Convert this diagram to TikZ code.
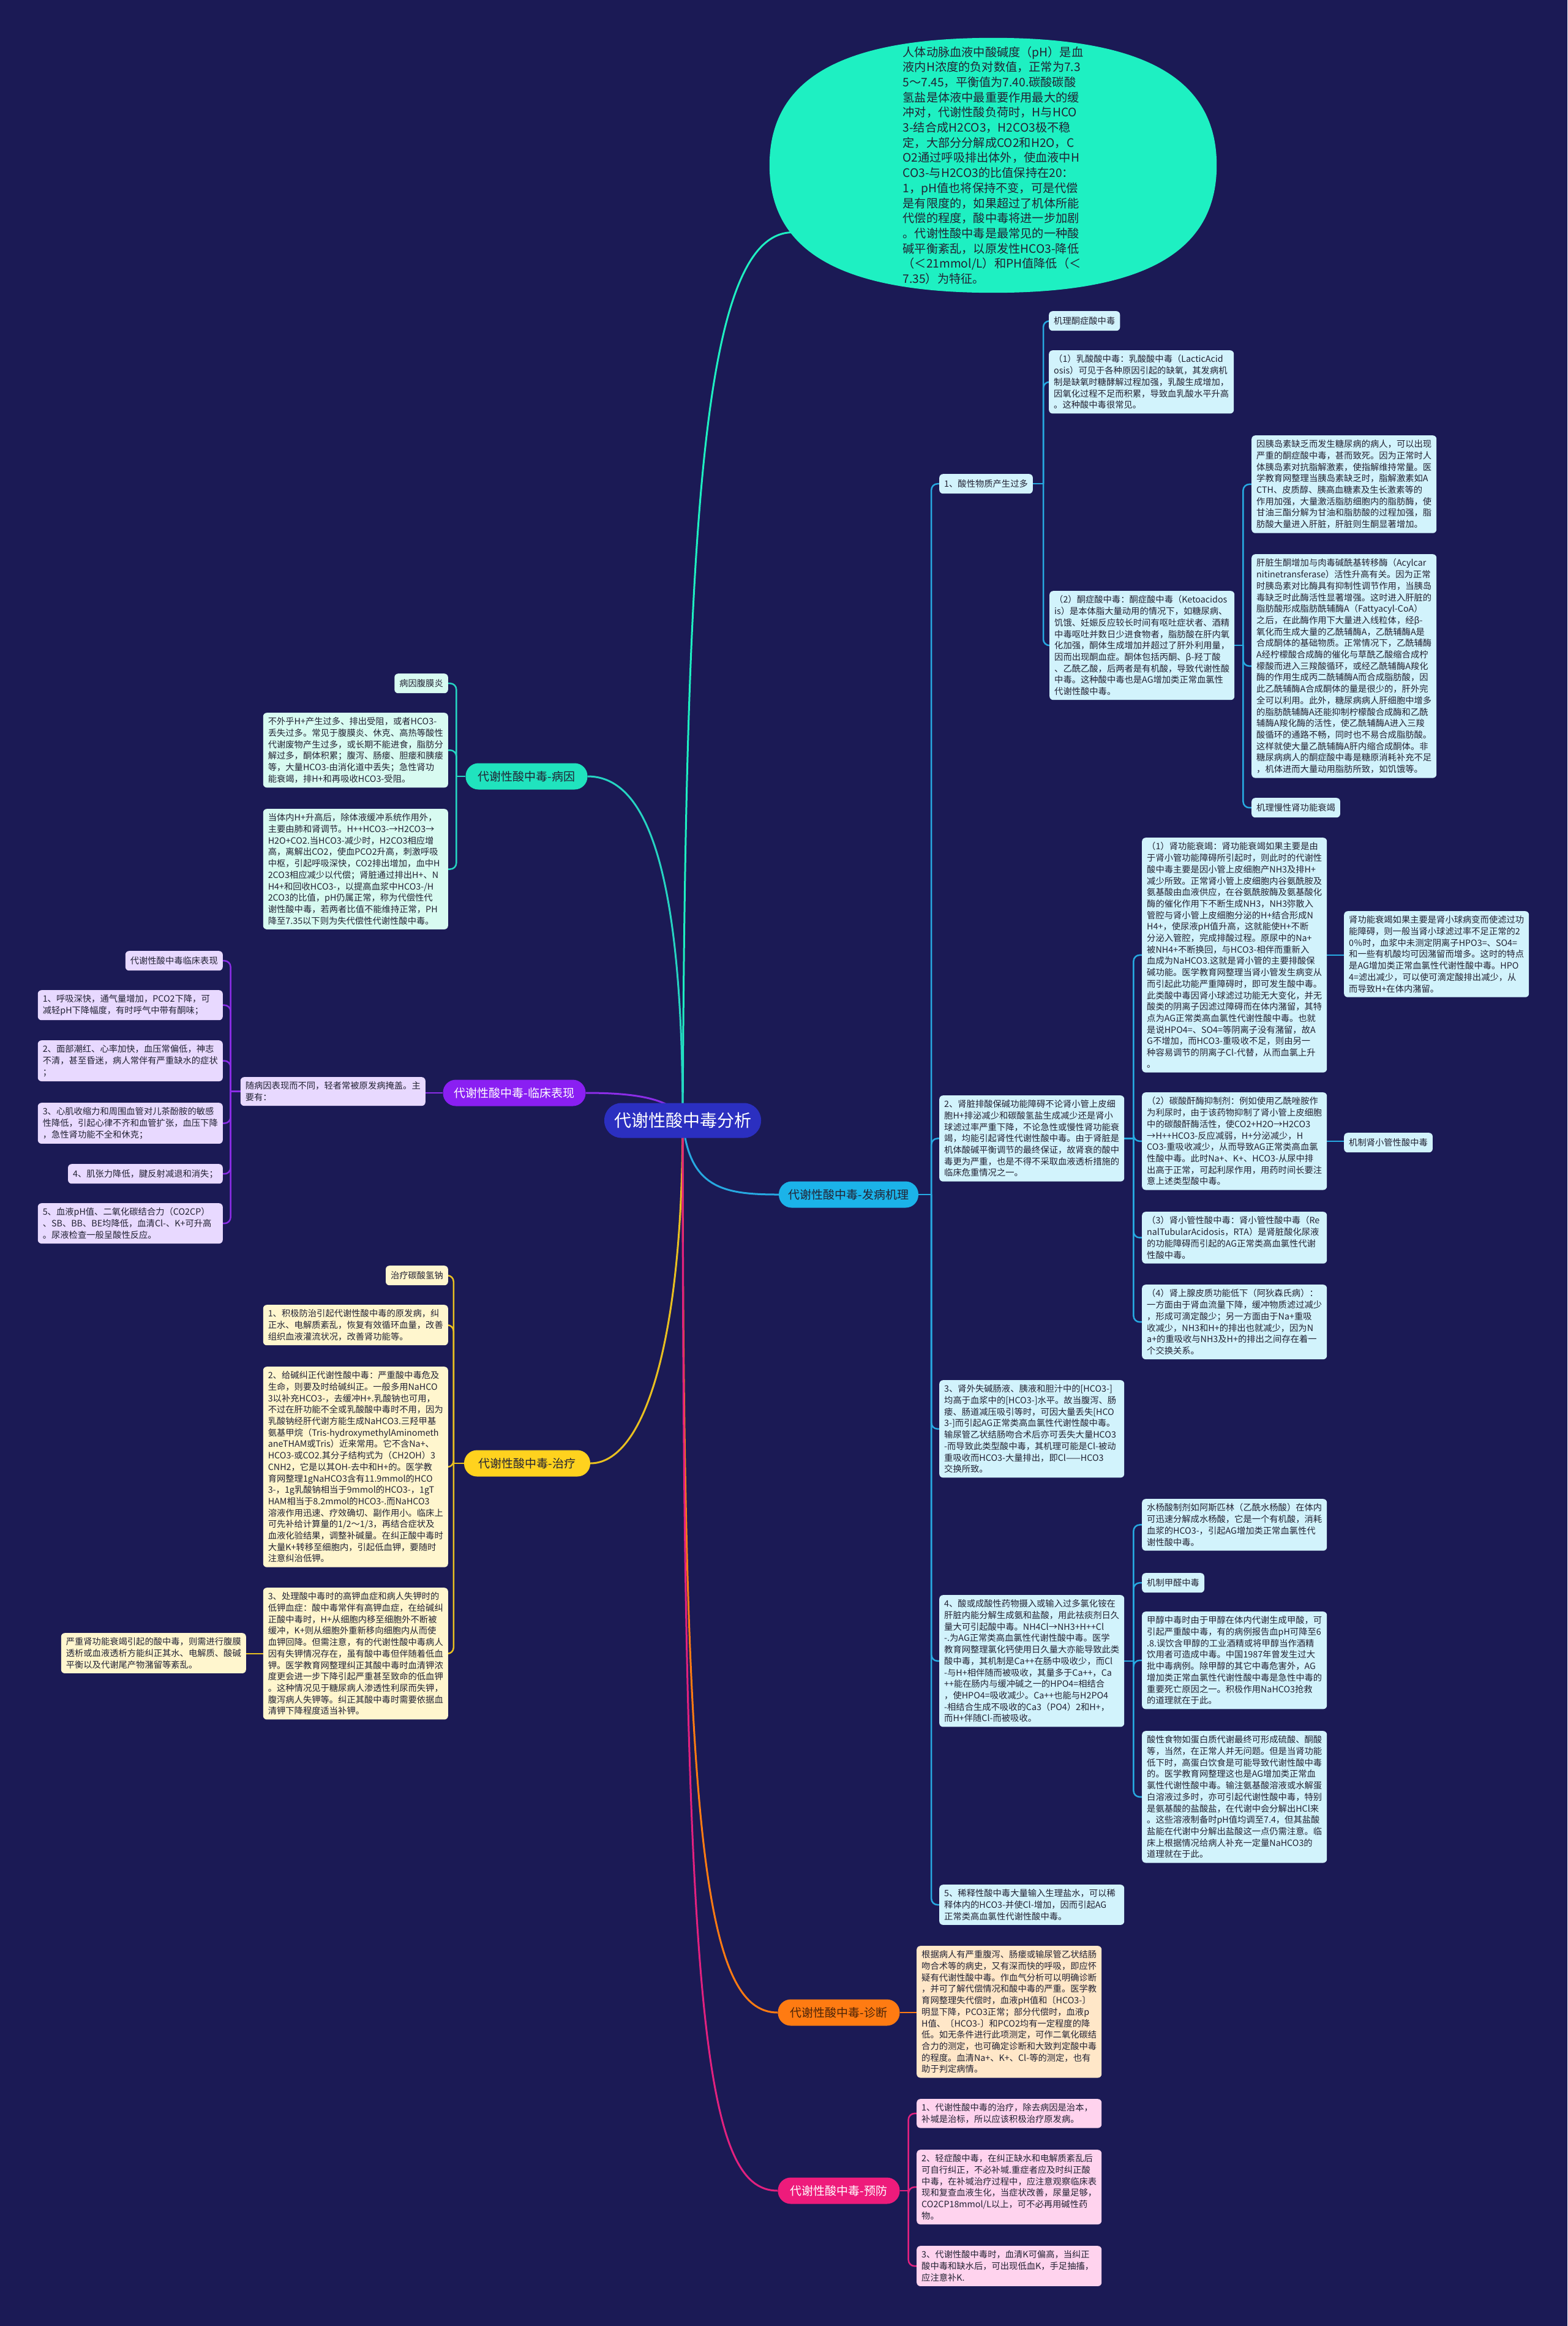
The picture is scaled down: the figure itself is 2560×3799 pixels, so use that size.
\documentclass[tikz,border=0pt]{standalone}
\usepackage{fontspec}
\setmainfont{Noto Sans CJK SC}
\usetikzlibrary{shapes.geometric, calc}
\definecolor{bgnavy}{HTML}{1B1A55}
\definecolor{hubblue}{HTML}{2B2FC0}
\definecolor{introfill}{HTML}{1EF0C2}
\definecolor{inkdark}{HTML}{222233}
\definecolor{mechmain}{HTML}{1BB3E9}
\definecolor{mechline}{HTML}{27A9E1}
\definecolor{mechleaf}{HTML}{D2F3FC}
\definecolor{causemain}{HTML}{20E3BE}
\definecolor{causeline}{HTML}{26D4C2}
\definecolor{causeleaf}{HTML}{D8FBF1}
\definecolor{signmain}{HTML}{8A1FF2}
\definecolor{signline}{HTML}{8B2DE6}
\definecolor{signleaf}{HTML}{E8D9FF}
\definecolor{curemain}{HTML}{FFD21E}
\definecolor{cureline}{HTML}{E9C020}
\definecolor{cureleaf}{HTML}{FFF6CE}
\definecolor{diagmain}{HTML}{FF7B12}
\definecolor{diagink}{HTML}{4A2308}
\definecolor{diagleaf}{HTML}{FFE7C8}
\definecolor{prevmain}{HTML}{EE1B7B}
\definecolor{prevline}{HTML}{E2217F}
\definecolor{prevleaf}{HTML}{FFD3EE}
\pgfdeclarelayer{bg}
\pgfdeclarelayer{edges}
\pgfsetlayers{bg,edges,main}

\begin{document}
\begin{tikzpicture}[x=1pt, y=-1pt,
  tagbox/.style={rounded corners=6pt, inner xsep=8pt, inner ysep=7.5pt,
    minimum height=32pt, align=left, text=inkdark,
    font=\fontsize{14.3}{18.7}\selectfont},
  leafbox/.style={tagbox, text width=286pt},
  branch/.style={rounded corners=21pt, minimum height=43pt, inner xsep=12pt,
    font=\fontsize{19}{23}\selectfont},
  trunk/.style={line width=3pt},
  link/.style={line width=2.5pt, rounded corners=10pt}]

  \begin{pgfonlayer}{bg}
    \fill[bgnavy] (0,0) rectangle (2560,3799);
  \end{pgfonlayer}
  \useasboundingbox (0,0) rectangle (2560,3799);

  \node[branch, fill=hubblue, text=white, minimum width=256pt, minimum height=57pt,
    rounded corners=28pt, font=\fontsize{28}{32}\selectfont] (hub) at (1115,1830) {代谢性酸中毒分析};

  \node[ellipse, minimum width=730pt, minimum height=416pt, inner sep=0pt] (intro) at (1622,270) {};
  \fill[introfill] (intro.north) .. controls +(248,0) and +(0,-141) .. (intro.east)
    .. controls +(0,141) and +(248,0) .. (intro.south)
    .. controls +(-248,0) and +(0,141) .. (intro.west)
    .. controls +(0,-141) and +(-248,0) .. (intro.north) -- cycle;
  \node[align=left, text=inkdark, inner sep=0pt, font=\fontsize{19.2}{24.7}\selectfont] (introtext) at (intro.center) {人体动脉血液中酸碱度（pH）是血\\
液内H浓度的负对数值，正常为7.3\\
5～7.45，平衡值为7.40.碳酸碳酸\\
氢盐是体液中最重要作用最大的缓\\
冲对，代谢性酸负荷时，H与HCO\\
3-结合成H2CO3，H2CO3极不稳\\
定，大部分分解成CO2和H2O，C\\
O2通过呼吸排出体外，使血液中H\\
CO3-与H2CO3的比值保持在20：\\
1，pH值也将保持不变，可是代偿\\
是有限度的，如果超过了机体所能\\
代偿的程度，酸中毒将进一步加剧\\
。代谢性酸中毒是最常见的一种酸\\
碱平衡紊乱，以原发性HCO3-降低\\
（＜21mmol/L）和PH值降低（＜\\
7.35）为特征。};

  % 发病机理
  \node[branch, fill=mechmain, text=inkdark, minimum width=228pt] (mech) at (1386,1951) {代谢性酸中毒-发病机理};
  \node[tagbox, fill=mechleaf, anchor=north west] (m1) at (1534,774) {1、酸性物质产生过多};
  \node[tagbox, fill=mechleaf, anchor=north west] (m1a) at (1713,508) {机理酮症酸中毒};
  \node[leafbox, fill=mechleaf, anchor=north west] (m1b) at (1713,572) {（1）乳酸酸中毒：乳酸酸中毒（LacticAcid\\
osis）可见于各种原因引起的缺氧，其发病机\\
制是缺氧时糖酵解过程加强，乳酸生成增加，\\
因氧化过程不足而积累，导致血乳酸水平升高\\
。这种酸中毒很常见。};
  \node[leafbox, fill=mechleaf, anchor=north west] (m1c) at (1714,965) {（2）酮症酸中毒：酮症酸中毒（Ketoacidos\\
is）是本体脂大量动用的情况下，如糖尿病、\\
饥饿、妊娠反应较长时间有呕吐症状者、酒精\\
中毒呕吐并数日少进食物者，脂肪酸在肝内氧\\
化加强，酮体生成增加并超过了肝外利用量，\\
因而出现酮血症。酮体包括丙酮、β-羟丁酸\\
、乙酰乙酸，后两者是有机酸，导致代谢性酸\\
中毒。这种酸中毒也是AG增加类正常血氯性\\
代谢性酸中毒。};
  \node[leafbox, fill=mechleaf, anchor=north west] (m1c1) at (2044,711) {因胰岛素缺乏而发生糖尿病的病人，可以出现\\
严重的酮症酸中毒，甚而致死。因为正常时人\\
体胰岛素对抗脂解激素，使指解维持常量。医\\
学教育网整理当胰岛素缺乏时，脂解激素如A\\
CTH、皮质醇、胰高血糖素及生长激素等的\\
作用加强，大量激活脂肪细胞内的脂肪酶，使\\
甘油三酯分解为甘油和脂肪酸的过程加强，脂\\
肪酸大量进入肝脏，肝脏则生酮显著增加。};
  \node[leafbox, fill=mechleaf, anchor=north west] (m1c2) at (2044,905) {肝脏生酮增加与肉毒碱酰基转移酶（Acylcar\\
nitinetransferase）活性升高有关。因为正常\\
时胰岛素对比酶具有抑制性调节作用，当胰岛\\
毒缺乏时此酶活性显著增强。这时进入肝脏的\\
脂肪酸形成脂肪酰辅酶A（Fattyacyl-CoA）\\
之后，在此酶作用下大量进入线粒体，经β-\\
氧化而生成大量的乙酰辅酶A，乙酰辅酶A是\\
合成酮体的基础物质。正常情况下，乙酰辅酶\\
A经柠檬酸合成酶的催化与草酰乙酸缩合成柠\\
檬酸而进入三羧酸循环，或经乙酰辅酶A羧化\\
酶的作用生成丙二酰辅酶A而合成脂肪酸，因\\
此乙酰辅酶A合成酮体的量是很少的，肝外完\\
全可以利用。此外，糖尿病病人肝细胞中增多\\
的脂肪酰辅酶A还能抑制柠檬酸合成酶和乙酰\\
辅酶A羧化酶的活性，使乙酰辅酶A进入三羧\\
酸循环的通路不畅，同时也不易合成脂肪酸。\\
这样就使大量乙酰辅酶A肝内缩合成酮体。非\\
糖尿病病人的酮症酸中毒是糖原消耗补充不足\\
，机体进而大量动用脂肪所致，如饥饿等。};
  \node[tagbox, fill=mechleaf, anchor=north west] (m1c3) at (2044,1303) {机理慢性肾功能衰竭};
  \node[leafbox, fill=mechleaf, anchor=north west] (m2) at (1534,1789) {2、肾脏排酸保碱功能障碍不论肾小管上皮细\\
胞H+排泌减少和碳酸氢盐生成减少还是肾小\\
球滤过率严重下降，不论急性或慢性肾功能衰\\
竭，均能引起肾性代谢性酸中毒。由于肾脏是\\
机体酸碱平衡调节的最终保证，故肾衰的酸中\\
毒更为严重，也是不得不采取血液透析措施的\\
临床危重情况之一。};
  \node[leafbox, fill=mechleaf, anchor=north west] (m2a) at (1865,1368) {（1）肾功能衰竭：肾功能衰竭如果主要是由\\
于肾小管功能障碍所引起时，则此时的代谢性\\
酸中毒主要是因小管上皮细胞产NH3及排H+\\
减少所致。正常肾小管上皮细胞内谷氨酰胺及\\
氨基酸由血液供应，在谷氨酰胺酶及氨基酸化\\
酶的催化作用下不断生成NH3，NH3弥散入\\
管腔与肾小管上皮细胞分泌的H+结合形成N\\
H4+，使尿液pH值升高，这就能使H+不断\\
分泌入管腔，完成排酸过程。原尿中的Na+\\
被NH4+不断换回，与HCO3-相伴而重新入\\
血成为NaHCO3.这就是肾小管的主要排酸保\\
碱功能。医学教育网整理当肾小管发生病变从\\
而引起此功能严重障碍时，即可发生酸中毒。\\
此类酸中毒因肾小球滤过功能无大变化，并无\\
酸类的阴离子因滤过障碍而在体内潴留，其特\\
点为AG正常类高血氯性代谢性酸中毒。也就\\
是说HPO4=、SO4=等阴离子没有潴留，故A\\
G不增加，而HCO3-重吸收不足，则由另一\\
种容易调节的阴离子Cl-代替，从而血氯上升\\
。};
  \node[leafbox, fill=mechleaf, anchor=north west] (m2a1) at (2195,1488) {肾功能衰竭如果主要是肾小球病变而使滤过功\\
能障碍，则一般当肾小球滤过率不足正常的2\\
0％时，血浆中未测定阴离子HPO3=、SO4=\\
和一些有机酸均可因潴留而增多。这时的特点\\
是AG增加类正常血氯性代谢性酸中毒。HPO\\
4=滤出减少，可以使可滴定酸排出减少，从\\
而导致H+在体内潴留。};
  \node[leafbox, fill=mechleaf, anchor=north west] (m2b) at (1865,1784) {（2）碳酸酐酶抑制剂：例如使用乙酰唑胺作\\
为利尿时，由于该药物抑制了肾小管上皮细胞\\
中的碳酸酐酶活性，使CO2+H2O→H2CO3\\
→H++HCO3-反应减弱，H+分泌减少，H\\
CO3-重吸收减少，从而导致AG正常类高血氯\\
性酸中毒。此时Na+、K+、HCO3-从尿中排\\
出高于正常，可起利尿作用，用药时间长要注\\
意上述类型酸中毒。};
  \node[tagbox, fill=mechleaf, anchor=north west] (m2b1) at (2195,1850) {机制肾小管性酸中毒};
  \node[leafbox, fill=mechleaf, anchor=north west] (m2c) at (1865,1979) {（3）肾小管性酸中毒：肾小管性酸中毒（Re\\
nalTubularAcidosis，RTA）是肾脏酸化尿液\\
的功能障碍而引起的AG正常类高血氯性代谢\\
性酸中毒。};
  \node[leafbox, fill=mechleaf, anchor=north west] (m2d) at (1865,2098) {（4）肾上腺皮质功能低下（阿狄森氏病）：\\
一方面由于肾血流量下降，缓冲物质滤过减少\\
，形成可滴定酸少；另一方面由于Na+重吸\\
收减少，NH3和H+的排出也就减少，因为N\\
a+的重吸收与NH3及H+的排出之间存在着一\\
个交换关系。};
  \node[leafbox, fill=mechleaf, anchor=north west] (m3) at (1534,2254) {3、肾外失碱肠液、胰液和胆汁中的[HCO3-]\\
均高于血浆中的[HCO3-]水平。故当腹泻、肠\\
瘘、肠道减压吸引等时，可因大量丢失[HCO\\
3-]而引起AG正常类高血氯性代谢性酸中毒。\\
输尿管乙状结肠吻合术后亦可丢失大量HCO3\\
-而导致此类型酸中毒，其机理可能是Cl-被动\\
重吸收而HCO3-大量排出，即Cl——HCO3\\
交换所致。};
  \node[leafbox, fill=mechleaf, anchor=north west] (m4) at (1534,2605) {4、酸或成酸性药物摄入或输入过多氯化铵在\\
肝脏内能分解生成氨和盐酸，用此祛痰剂日久\\
量大可引起酸中毒。NH4Cl→NH3+H++Cl\\
-.为AG正常类高血氯性代谢性酸中毒。医学\\
教育网整理氯化钙使用日久量大亦能导致此类\\
酸中毒，其机制是Ca++在肠中吸收少，而Cl\\
-与H+相伴随而被吸收，其量多于Ca++，Ca\\
++能在肠内与缓冲碱之一的HPO4=相结合\\
，使HPO4=吸收减少。Ca++也能与H2PO4\\
-相结合生成不吸收的Ca3（PO4）2和H+，\\
而H+伴随Cl-而被吸收。};
  \node[leafbox, fill=mechleaf, anchor=north west] (m4a) at (1865,2448) {水杨酸制剂如阿斯匹林（乙酰水杨酸）在体内\\
可迅速分解成水杨酸，它是一个有机酸，消耗\\
血浆的HCO3-，引起AG增加类正常血氯性代\\
谢性酸中毒。};
  \node[tagbox, fill=mechleaf, anchor=north west] (m4b) at (1865,2569) {机制甲醛中毒};
  \node[leafbox, fill=mechleaf, anchor=north west] (m4c) at (1865,2632) {甲醇中毒时由于甲醇在体内代谢生成甲酸，可\\
引起严重酸中毒，有的病例报告血pH可降至6\\
.8.误饮含甲醇的工业酒精或将甲醇当作酒精\\
饮用者可造成中毒。中国1987年曾发生过大\\
批中毒病例。除甲醇的其它中毒危害外，AG\\
增加类正常血氯性代谢性酸中毒是急性中毒的\\
重要死亡原因之一。积极作用NaHCO3抢救\\
的道理就在于此。};
  \node[leafbox, fill=mechleaf, anchor=north west] (m4d) at (1865,2827) {酸性食物如蛋白质代谢最终可形成硫酸、酮酸\\
等，当然，在正常人并无问题。但是当肾功能\\
低下时，高蛋白饮食是可能导致代谢性酸中毒\\
的。医学教育网整理这也是AG增加类正常血\\
氯性代谢性酸中毒。输注氨基酸溶液或水解蛋\\
白溶液过多时，亦可引起代谢性酸中毒，特别\\
是氨基酸的盐酸盐，在代谢中会分解出HCl来\\
。这些溶液制备时pH值均调至7.4，但其盐酸\\
盐能在代谢中分解出盐酸这一点仍需注意。临\\
床上根据情况给病人补充一定量NaHCO3的\\
道理就在于此。};
  \node[leafbox, fill=mechleaf, anchor=north west] (m5) at (1534,3078) {5、稀释性酸中毒大量输入生理盐水，可以稀\\
释体内的HCO3-并使Cl-增加，因而引起AG\\
正常类高血氯性代谢性酸中毒。};

  % 病因
  \node[branch, fill=causemain, text=inkdark, minimum width=199pt] (cause) at (860,1268) {代谢性酸中毒-病因};
  \node[tagbox, fill=causeleaf, anchor=north east] (c0) at (732,1100) {病因腹膜炎};
  \node[leafbox, fill=causeleaf, anchor=north east] (ca) at (732,1164) {不外乎H+产生过多、排出受阻，或者HCO3-\\
丢失过多。常见于腹膜炎、休克、高热等酸性\\
代谢废物产生过多，或长期不能进食，脂肪分\\
解过多，酮体积累；腹泻、肠瘘、胆瘘和胰瘘\\
等，大量HCO3-由消化道中丢失；急性肾功\\
能衰竭，排H+和再吸收HCO3-受阻。};
  \node[leafbox, fill=causeleaf, anchor=north east] (cb) at (732,1321) {当体内H+升高后，除体液缓冲系统作用外，\\
主要由肺和肾调节。H++HCO3-→H2CO3→\\
H2O+CO2.当HCO3-减少时，H2CO3相应增\\
高，离解出CO2，使血PCO2升高，刺激呼吸\\
中枢，引起呼吸深快，CO2排出增加，血中H\\
2CO3相应减少以代偿；肾脏通过排出H+、N\\
H4+和回收HCO3-，以提高血浆中HCO3-/H\\
2CO3的比值，pH仍属正常，称为代偿性代\\
谢性酸中毒，若两者比值不能维持正常，PH\\
降至7.35以下则为失代偿性代谢性酸中毒。};

  % 临床表现
  \node[branch, fill=signmain, text=white, minimum width=233pt] (sign) at (840,1785) {代谢性酸中毒-临床表现};
  \node[leafbox, fill=signleaf, anchor=north east] (s0) at (695,1759) {随病因表现而不同，轻者常被原发病掩盖。主\\
要有：};
  \node[tagbox, fill=signleaf, anchor=north east] (s1) at (364,1553) {代谢性酸中毒临床表现};
  \node[leafbox, fill=signleaf, anchor=north east] (s2) at (364,1617) {1、呼吸深快，通气量增加，PCO2下降，可\\
减轻pH下降幅度，有时呼气中带有酮味；};
  \node[leafbox, fill=signleaf, anchor=north east] (s3) at (364,1699) {2、面部潮红、心率加快，血压常偏低，神志\\
不清，甚至昏迷，病人常伴有严重缺水的症状\\
；};
  \node[leafbox, fill=signleaf, anchor=north east] (s4) at (364,1801) {3、心肌收缩力和周围血管对儿茶酚胺的敏感\\
性降低，引起心律不齐和血管扩张，血压下降\\
，急性肾功能不全和休克；};
  \node[tagbox, fill=signleaf, anchor=north east] (s5) at (364,1901) {4、肌张力降低，腱反射减退和消失；};
  \node[leafbox, fill=signleaf, anchor=north east] (s6) at (364,1965) {5、血液pH值、二氧化碳结合力（CO2CP）\\
、SB、BB、BE均降低，血清Cl-、K+可升高\\
。尿液检查一般呈酸性反应。};

  % 治疗
  \node[branch, fill=curemain, text=inkdark, minimum width=206pt] (cure) at (861,2390) {代谢性酸中毒-治疗};
  \node[tagbox, fill=cureleaf, anchor=north east] (t0) at (732,2067) {治疗碳酸氢钠};
  \node[leafbox, fill=cureleaf, anchor=north east] (t1) at (732,2131) {1、积极防治引起代谢性酸中毒的原发病，纠\\
正水、电解质紊乱，恢复有效循环血量，改善\\
组织血液灌流状况，改善肾功能等。};
  \node[leafbox, fill=cureleaf, anchor=north east] (t2) at (732,2232) {2、给碱纠正代谢性酸中毒：严重酸中毒危及\\
生命，则要及时给碱纠正。一般多用NaHCO\\
3以补充HCO3-，去缓冲H+.乳酸钠也可用，\\
不过在肝功能不全或乳酸酸中毒时不用，因为\\
乳酸钠经肝代谢方能生成NaHCO3.三羟甲基\\
氨基甲烷（Tris-hydroxymethylAminometh\\
aneTHAM或Tris）近来常用。它不含Na+、\\
HCO3-或CO2.其分子结构式为（CH2OH）3\\
CNH2，它是以其OH-去中和H+的。医学教\\
育网整理1gNaHCO3含有11.9mmol的HCO\\
3-，1g乳酸钠相当于9mmol的HCO3-，1gT\\
HAM相当于8.2mmol的HCO3-.而NaHCO3\\
溶液作用迅速、疗效确切、副作用小。临床上\\
可先补给计算量的1/2～1/3，再结合症状及\\
血液化验结果，调整补碱量。在纠正酸中毒时\\
大量K+转移至细胞内，引起低血钾，要随时\\
注意纠治低钾。};
  \node[leafbox, fill=cureleaf, anchor=north east] (t3) at (732,2593) {3、处理酸中毒时的高钾血症和病人失钾时的\\
低钾血症：酸中毒常伴有高钾血症，在给碱纠\\
正酸中毒时，H+从细胞内移至细胞外不断被\\
缓冲，K+则从细胞外重新移向细胞内从而使\\
血钾回降。但需注意，有的代谢性酸中毒病人\\
因有失钾情况存在，虽有酸中毒但伴随着低血\\
钾。医学教育网整理纠正其酸中毒时血清钾浓\\
度更会进一步下降引起严重甚至致命的低血钾\\
。这种情况见于糖尿病人渗透性利尿而失钾，\\
腹泻病人失钾等。纠正其酸中毒时需要依据血\\
清钾下降程度适当补钾。};
  \node[leafbox, fill=cureleaf, anchor=north east] (t3a) at (402,2667) {严重肾功能衰竭引起的酸中毒，则需进行腹膜\\
透析或血液透析方能纠正其水、电解质、酸碱\\
平衡以及代谢尾产物潴留等紊乱。};

  % 诊断
  \node[branch, fill=diagmain, text=diagink, minimum width=199pt] (diag) at (1370,3287) {代谢性酸中毒-诊断};
  \node[leafbox, fill=diagleaf, anchor=north west] (d1) at (1497,3178) {根据病人有严重腹泻、肠瘘或输尿管乙状结肠\\
吻合术等的病史，又有深而快的呼吸，即应怀\\
疑有代谢性酸中毒。作血气分析可以明确诊断\\
，并可了解代偿情况和酸中毒的严重。医学教\\
育网整理失代偿时，血液pH值和〔HCO3-〕\\
明显下降，PCO3正常；部分代偿时，血液p\\
H值、〔HCO3-〕和PCO2均有一定程度的降\\
低。如无条件进行此项测定，可作二氧化碳结\\
合力的测定，也可确定诊断和大致判定酸中毒\\
的程度。血清Na+、K+、Cl-等的测定，也有\\
助于判定病情。};

  % 预防
  \node[branch, fill=prevmain, text=white, minimum width=199pt] (prev) at (1370,3578) {代谢性酸中毒-预防};
  \node[leafbox, fill=prevleaf, anchor=north west] (p1) at (1497,3428) {1、代谢性酸中毒的治疗，除去病因是治本，\\
补堿是治标，所以应该积极治疗原发病。};
  \node[leafbox, fill=prevleaf, anchor=north west] (p2) at (1497,3511) {2、轻症酸中毒，在纠正缺水和电解质紊乱后\\
可自行纠正，不必补堿.重症者应及时纠正酸\\
中毒，在补堿治疗过程中，应注意观察临床表\\
现和复查血液生化，当症状改善，尿量足够，\\
CO2CP18mmol/L以上，可不必再用碱性药\\
物。};
  \node[leafbox, fill=prevleaf, anchor=north west] (p3) at (1497,3668) {3、代谢性酸中毒时，血清K可偏高，当纠正\\
酸中毒和缺水后，可出现低血K，手足抽搐，\\
应注意补K.};

  \begin{pgfonlayer}{edges}
    \draw[trunk, introfill] (hub.center) .. controls (1120,800) and (1150,341) .. (intro.200);
    \draw[trunk, causeline] (hub.center) .. controls (1115,1400) and (1050,1268) .. (cause.east);
    \draw[trunk, signline] (hub.center) .. controls (1100,1790) and (1020,1785) .. (sign.east);
    \draw[trunk, cureline] (hub.center) .. controls (1115,2200) and (1050,2390) .. (cure.east);
    \draw[trunk, mechline] (hub.center) .. controls (1125,1940) and (1180,1951) .. (mech.west);
    \draw[trunk, diagmain] (hub.center) .. controls (1115,3000) and (1150,3287) .. (diag.west);
    \draw[trunk, prevline] (hub.center) .. controls (1115,3300) and (1150,3578) .. (prev.west);

    \coordinate (mj) at ($(mech.east)+(21,0)$);
    \draw[link, mechline] (mech.east) -- (mj);
    \foreach \c in {m1,m2,m3,m4,m5} \draw[link, mechline] (mj) |- (\c.west);
    \coordinate (m1j) at ($(m1.east)+(17,0)$);
    \draw[link, mechline] (m1.east) -- (m1j);
    \foreach \c in {m1a,m1b,m1c} \draw[link, mechline] (m1j) |- (\c.west);
    \coordinate (m1cj) at ($(m1c.east)+(14,0)$);
    \draw[link, mechline] (m1c.east) -- (m1cj);
    \foreach \c in {m1c1,m1c2,m1c3} \draw[link, mechline] (m1cj) |- (\c.west);
    \coordinate (m2j) at ($(m2.east)+(15,0)$);
    \draw[link, mechline] (m2.east) -- (m2j);
    \foreach \c in {m2a,m2b,m2c,m2d} \draw[link, mechline] (m2j) |- (\c.west);
    \draw[link, mechline] (m2a.east) -- (m2a.east -| m2a1.west);
    \draw[link, mechline] (m2b.east) -- (m2b.east -| m2b1.west);
    \coordinate (m4j) at ($(m4.east)+(15,0)$);
    \draw[link, mechline] (m4.east) -- (m4j);
    \foreach \c in {m4a,m4b,m4c,m4d} \draw[link, mechline] (m4j) |- (\c.west);

    \coordinate (cj) at ($(cause.west)+(-15,0)$);
    \draw[link, causeline] (cause.west) -- (cj);
    \foreach \c in {c0,ca,cb} \draw[link, causeline] (cj) |- (\c.east);

    \draw[link, signline] (sign.west) -- (sign.west -| s0.east);
    \coordinate (sj) at ($(s0.west)+(-16,0)$);
    \draw[link, signline] (s0.west) -- (sj);
    \foreach \c in {s1,s2,s3,s4,s5,s6} \draw[link, signline] (sj) |- (\c.east);

    \coordinate (tj) at ($(cure.west)+(-17,0)$);
    \draw[link, cureline] (cure.west) -- (tj);
    \foreach \c in {t0,t1,t2,t3} \draw[link, cureline] (tj) |- (\c.east);
    \draw[link, cureline] (t3.west) -- (t3.west -| t3a.east);

    \draw[link, diagmain] (diag.east) -- (diag.east -| d1.west);
    \coordinate (pj) at ($(prev.east)+(14,0)$);
    \draw[link, prevline] (prev.east) -- (pj);
    \foreach \c in {p1,p2,p3} \draw[link, prevline] (pj) |- (\c.west);
  \end{pgfonlayer}
\end{tikzpicture}
\end{document}
